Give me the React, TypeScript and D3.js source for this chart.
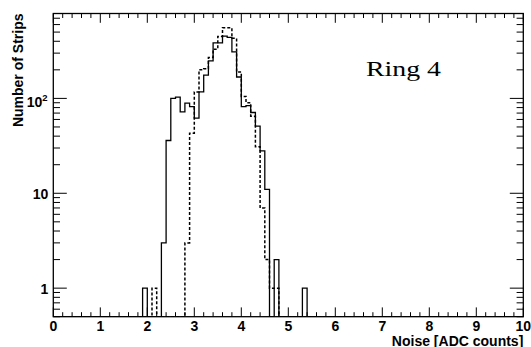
import React from "react";
import * as d3 from "d3";

// Histogram bins (low edges, width 0.1) and counts
const binLows = [1.9, 2.0, 2.1, 2.2, 2.3, 2.4, 2.5, 2.6, 2.7, 2.8, 2.9, 3.0, 3.1, 3.2, 3.3, 3.4, 3.5, 3.6, 3.7, 3.8, 3.9, 4.0, 4.1, 4.2, 4.3, 4.4, 4.5, 4.6, 4.7, 4.8, 4.9, 5.0, 5.1, 5.2, 5.3];
const binWidth = 0.1;
const solidCounts = [1, 0, 0, 0, 3, 36, 100, 103, 72, 89, 82, 62, 117, 176, 249, 385, 385, 453, 440, 310, 168, 82, 84, 71, 51, 28, 11, 0, 2, 0, 0, 0, 0, 0, 1];
const dottedCounts = [0, 0, 1, 0, 0, 0, 0, 0, 0, 3, 43, 117, 200, 205, 270, 330, 450, 555, 555, 430, 190, 105, 90, 65, 31, 7, 2, 1, 1, 0, 0, 0, 0, 0, 0];

const xMajorTicks = [0, 1, 2, 3, 4, 5, 6, 7, 8, 9, 10];
const yMajorTicks = [1, 10, 100];
const xTitle = "Noise [ADC counts]";
const yTitle = "Number of Strips";
const annotation = "Ring 4";

const W = 531, H = 347;
const L = 53.3, R = 523.3, T = 13.5, B = 316.7;

export default function App() {
  const x = d3.scaleLinear().domain([0, 10]).range([L, R]);
  const y = d3.scaleLog().domain([0.5, 785]).range([B, T]);
  const yv = (v: number) => (v > 0 ? y(v) : B);

  const makePath = (counts: number[]) => {
    const pts: [number, number][] = [[0, 0]];
    binLows.forEach((lo, i) => pts.push([lo, counts[i]]));
    const last = binLows[binLows.length - 1] + binWidth;
    pts.push([last, 0]);
    pts.push([10, 0]);
    return d3
      .line<[number, number]>()
      .x((d) => x(d[0]))
      .y((d) => yv(d[1]))
      .curve(d3.curveStepAfter)(pts) as string;
  };

  const xMinor = x.ticks(50).filter((t) => !xMajorTicks.some((m) => Math.abs(m - t) < 1e-6));
  const yAll = y.ticks();
  const yMinor = yAll.filter((t) => !yMajorTicks.some((m) => Math.abs(m - t) < 1e-9));

  const font = "'Liberation Sans', Arial, Helvetica, sans-serif";

  return (
    <svg width={W} height={H} style={{ position: "absolute", left: 0, top: 0, background: "#fff" }}>
      <defs>
        <clipPath id="frame">
          <rect x={L} y={T} width={R - L} height={B - T} />
        </clipPath>
      </defs>
      <rect x={0} y={0} width={W} height={H} fill="#fff" />
      <g clipPath="url(#frame)" fill="none" stroke="#000">
        <path d={makePath(dottedCounts)} strokeWidth={1.5} strokeDasharray="3 2" />
        <path d={makePath(solidCounts)} strokeWidth={1.3} />
      </g>
      {/* frame */}
      <rect x={L} y={T} width={R - L} height={B - T} fill="none" stroke="#000" strokeWidth={1.3} />
      {/* ticks */}
      <g stroke="#000" strokeWidth={1}>
        {xMajorTicks.map((t) => (
          <g key={"xm" + t}>
            <line x1={x(t)} x2={x(t)} y1={B} y2={B - 9.3} />
            <line x1={x(t)} x2={x(t)} y1={T} y2={T + 9.3} />
          </g>
        ))}
        {xMinor.map((t) => (
          <g key={"xn" + t}>
            <line x1={x(t)} x2={x(t)} y1={B} y2={B - 4.5} />
            <line x1={x(t)} x2={x(t)} y1={T} y2={T + 4.5} />
          </g>
        ))}
        {yMajorTicks.map((t) => (
          <g key={"ym" + t}>
            <line x1={L} x2={L + 13.5} y1={y(t)} y2={y(t)} />
            <line x1={R} x2={R - 13.5} y1={y(t)} y2={y(t)} />
          </g>
        ))}
        {yMinor.map((t) => (
          <g key={"yn" + t}>
            <line x1={L} x2={L + 6.7} y1={y(t)} y2={y(t)} />
            <line x1={R} x2={R - 6.7} y1={y(t)} y2={y(t)} />
          </g>
        ))}
      </g>
      {/* x labels */}
      <g fontFamily={font} fontWeight="bold" fontSize={14} textAnchor="middle">
        {xMajorTicks.map((t) => (
          <text key={"xl" + t} x={x(t)} y={330.5}>
            {t}
          </text>
        ))}
      </g>
      {/* y labels */}
      <g fontFamily={font} fontWeight="bold" fontSize={14} textAnchor="end">
        {yMajorTicks.map((t) => {
          const e = Math.round(Math.log10(t));
          if (e === 2) {
            return (
              <text key={"yl" + t} x={47.5} y={y(t) + 9}>
                10
                <tspan dy={-6.5} fontSize={9.5}>
                  {e}
                </tspan>
              </text>
            );
          }
          return (
            <text key={"yl" + t} x={48.3} y={y(t) + 5.5}>
              {t}
            </text>
          );
        })}
      </g>
      {/* axis titles */}
      <text x={R} y={345.5} fontFamily={font} fontWeight="bold" fontSize={14} textAnchor="end">
        {xTitle}
      </text>
      <text
        transform={`translate(23.3, ${T}) rotate(-90)`}
        fontFamily={font}
        fontWeight="bold"
        fontSize={14}
        textAnchor="end"
      >
        {yTitle}
      </text>
      <text
        x={366}
        y={76}
        fontFamily="'Liberation Serif', 'Times New Roman', serif"
        fontSize={22}
        textLength={75}
        lengthAdjust="spacingAndGlyphs"
      >
        {annotation}
      </text>
    </svg>
  );
}
